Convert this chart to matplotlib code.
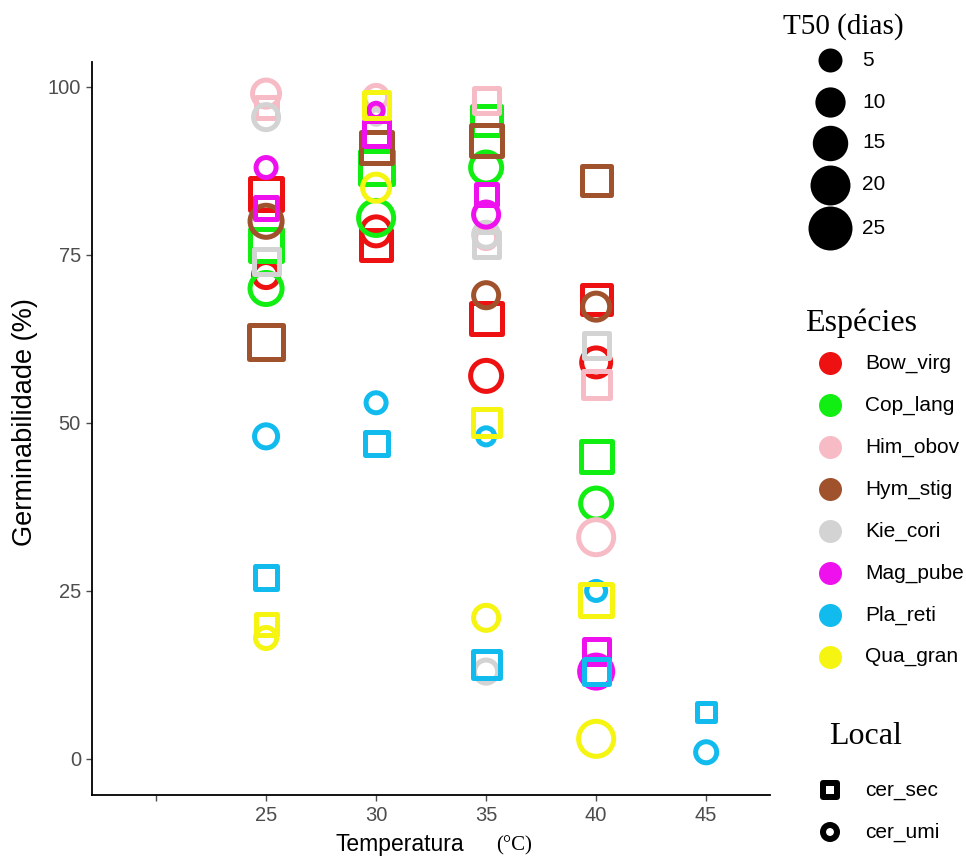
import numpy as np
import matplotlib.pyplot as plt

# dados
especies = ['Bow_virg', 'Cop_lang', 'Him_obov', 'Hym_stig',
            'Kie_cori', 'Mag_pube', 'Pla_reti', 'Qua_gran']
cores = ['#EE1111', '#11EE11', '#F7BBC6', '#A0522D',
         '#D3D3D3', '#EE11EE', '#11BBEE', '#F5F511']
locais = ['cer_sec', 'cer_umi']

temp = [25, 25, 25, 25, 25, 25, 25, 25, 25, 25, 25, 25, 25, 25, 25, 25,
        30, 30, 30, 30, 30, 30, 30, 30, 30, 30, 30, 30, 30,
        35, 35, 35, 35, 35, 35, 35, 35, 35, 35, 35, 35, 35, 35, 35, 35, 35,
        40, 40, 40, 40, 40, 40, 40, 40, 40, 40, 40, 40, 40, 40, 40,
        45, 45]
especie = ['Him_obov', 'Him_obov', 'Kie_cori', 'Mag_pube', 'Bow_virg', 'Mag_pube',
           'Hym_stig', 'Cop_lang', 'Kie_cori', 'Bow_virg', 'Cop_lang', 'Hym_stig',
           'Pla_reti', 'Pla_reti', 'Qua_gran', 'Qua_gran',
           'Him_obov', 'Qua_gran', 'Mag_pube', 'Kie_cori', 'Mag_pube', 'Hym_stig',
           'Cop_lang', 'Qua_gran', 'Cop_lang', 'Bow_virg', 'Bow_virg', 'Pla_reti',
           'Pla_reti',
           'Him_obov', 'Cop_lang', 'Hym_stig', 'Cop_lang', 'Mag_pube', 'Mag_pube',
           'Kie_cori', 'Him_obov', 'Kie_cori', 'Hym_stig', 'Bow_virg', 'Bow_virg',
           'Qua_gran', 'Pla_reti', 'Qua_gran', 'Kie_cori', 'Pla_reti',
           'Hym_stig', 'Bow_virg', 'Hym_stig', 'Kie_cori', 'Bow_virg', 'Him_obov',
           'Cop_lang', 'Cop_lang', 'Him_obov', 'Pla_reti', 'Qua_gran', 'Mag_pube',
           'Mag_pube', 'Pla_reti', 'Qua_gran',
           'Pla_reti', 'Pla_reti']
local = ['cer_umi', 'cer_sec', 'cer_umi', 'cer_umi', 'cer_sec', 'cer_sec',
         'cer_umi', 'cer_sec', 'cer_sec', 'cer_umi', 'cer_umi', 'cer_sec',
         'cer_umi', 'cer_sec', 'cer_sec', 'cer_umi',
         'cer_umi', 'cer_sec', 'cer_umi', 'cer_umi', 'cer_sec', 'cer_sec',
         'cer_sec', 'cer_umi', 'cer_umi', 'cer_umi', 'cer_sec', 'cer_umi',
         'cer_sec',
         'cer_sec', 'cer_sec', 'cer_sec', 'cer_umi', 'cer_sec', 'cer_umi',
         'cer_umi', 'cer_umi', 'cer_sec', 'cer_umi', 'cer_sec', 'cer_umi',
         'cer_sec', 'cer_umi', 'cer_umi', 'cer_umi', 'cer_sec',
         'cer_sec', 'cer_sec', 'cer_umi', 'cer_sec', 'cer_umi', 'cer_sec',
         'cer_sec', 'cer_umi', 'cer_umi', 'cer_umi', 'cer_sec', 'cer_sec',
         'cer_umi', 'cer_sec', 'cer_umi',
         'cer_sec', 'cer_umi']
germ = [99, 97, 95.5, 88, 84, 82, 80, 76.5, 74, 72, 70, 62, 48, 27, 20, 18,
        98.5, 97.3, 96.5, 95.5, 93, 91, 88, 85, 80.5, 78.5, 76.5, 53, 47,
        98, 95, 92, 88, 84, 81, 78, 77.5, 76.5, 69, 65.6, 57, 50, 48, 21, 13, 14,
        86, 68.3, 67.3, 61.5, 59, 55.7, 45, 38, 33, 25, 23.7, 16, 13, 13, 3,
        7, 1]
t50 = [11.6, 6.5, 9.8, 5.7, 16.7, 7.3, 16.7, 16.7, 9.8, 9.8, 16.7, 18.9, 8.1, 7.3, 6.5, 6.5,
       8.1, 9.8, 2.0, 2.0, 9.8, 15.6, 17.8, 11.6, 20.1, 13.5, 14.5, 5.7, 8.1,
       9.8, 13.5, 15.6, 15.6, 6.5, 9.8, 9.8, 6.5, 9.8, 9.8, 15.6, 15.6, 11.6, 3.7, 9.8, 8.1, 11.6,
       13.5, 13.5, 11.6, 9.8, 13.5, 11.6, 15.6, 15.6, 20.1, 5.0, 16.7, 9.8, 17.8, 9.8, 20.1,
       4.3, 6.5]

tamanhos_leg = [5, 10, 15, 20, 25]

DPI = 100
PX2PT = 72 / DPI


def diam_px(t):
    # diametro externo (px) em funcao do T50, area linear
    return np.sqrt(576 + (np.asarray(t) - 5) * 68)


fig = plt.figure(figsize=(9.66, 8.61), dpi=DPI)
ax = fig.add_axes([92 / 966, 66 / 861, (770 - 92) / 966, (795 - 62) / 861])

lw_px = 5.0
ordem = sorted(range(len(germ)), key=lambda i: especies.index(especie[i]))
for i in ordem:
    cor = cores[especies.index(especie[i])]
    mk = 's' if local[i] == 'cer_sec' else 'o'
    ms = (diam_px(t50[i]) - lw_px) * PX2PT
    ax.scatter(temp[i], germ[i], s=ms ** 2, marker=mk, facecolors='none',
               edgecolors=cor, linewidths=lw_px * PX2PT, zorder=3)

ax.set_xlim(17.09, 47.9)
ax.set_ylim(-5.36, 103.7)
ax.set_xticks([20, 25, 30, 35, 40, 45])
ax.set_xticklabels(['', '25', '30', '35', '40', '45'])
ax.set_yticks([0, 25, 50, 75, 100])
for s in ['top', 'right']:
    ax.spines[s].set_visible(False)
for s in ['left', 'bottom']:
    ax.spines[s].set_linewidth(1.3)
ax.tick_params(length=4, width=1.0, color='#4D4D4D', labelcolor='#4D4D4D',
               labelsize=14.5, pad=4)
for lab in ax.get_xticklabels() + ax.get_yticklabels():
    lab.set_family('Liberation Sans')

# camada em pixels para legendas e titulos
ov = fig.add_axes([0, 0, 1, 1], zorder=5)
ov.set_xlim(0, 966)
ov.set_ylim(861, 0)
ov.axis('off')

ov.text(25, 422, 'Germinabilidade (%)', fontsize=19.5, family='Liberation Sans',
        rotation=90, va='center', ha='center')
ov.text(336, 845, 'Temperatura', fontsize=16.5, family='Liberation Sans',
        va='center', ha='left')
ov.text(496, 846, '(\u00b0C)', fontsize=15, family='Liberation Serif',
        va='center', ha='left')

# legenda T50
ov.text(783, 27, 'T50 (dias)', fontsize=21, family='Liberation Serif',
        va='center', ha='left')
ys_t = [60, 102, 143, 185, 228]
for t, y in zip(tamanhos_leg, ys_t):
    ov.scatter(830, y, s=(diam_px(t) * PX2PT) ** 2, color='black', linewidths=0)
    ov.text(862, y, str(t), fontsize=15, family='Liberation Sans', va='center')

# legenda especies
ov.text(805, 323, 'Espécies', fontsize=23, family='Liberation Serif',
        va='center', ha='left')
for k, (nome, cor) in enumerate(zip(especies, cores)):
    y = 363 + k * 42
    ov.scatter(830, y, s=(23 * PX2PT) ** 2, color=cor, linewidths=0)
    ov.text(865, y, nome, fontsize=15, family='Liberation Sans', va='center')

# legenda local
ov.text(829, 737, 'Local', fontsize=23, family='Liberation Serif',
        va='center', ha='left')
for k, (nome, mk) in enumerate(zip(locais, ['s', 'o'])):
    y = 790 + k * 42
    ov.scatter(830, y, s=(14 * PX2PT) ** 2, marker=mk, facecolors='none',
               edgecolors='black', linewidths=6 * PX2PT)
    ov.text(865, y, nome, fontsize=15, family='Liberation Sans', va='center')

fig.savefig('out.png', dpi=DPI)
